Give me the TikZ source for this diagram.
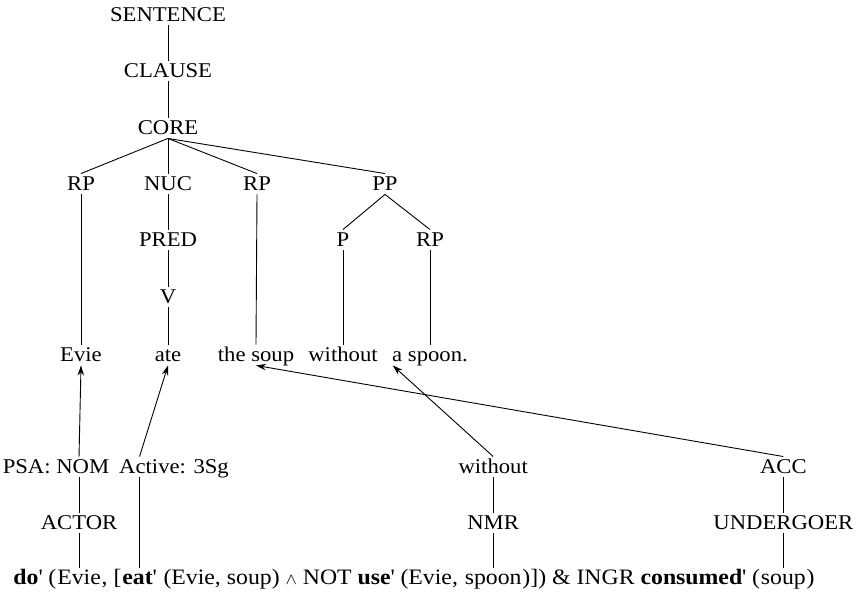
\documentclass[tikz,border=0pt]{standalone}
\usepackage{fontspec}
\setmainfont{Liberation Serif}[FakeStretch=1.08]
\usetikzlibrary{arrows.meta}
\newcommand\prm{\textquotesingle}
\newcommand\fgap{\kern\fontdimen2\font}
\begin{document}
\begin{tikzpicture}[x=0.5pt,y=-0.5pt,>={Stealth[length=5pt,width=3.2pt]},
  font=\fontsize{10.5}{12}\selectfont,line width=0.45pt,
  lab/.style={inner sep=1.5pt,text height=7pt,text depth=0pt,anchor=base},
  fpart/.style={font=\fontsize{11}{13}\selectfont,inner xsep=0pt,inner ysep=1.5pt,text height=7pt,text depth=0pt,anchor=base west}]
\useasboundingbox (0,0) rectangle (858,597);
% tree
\node[lab](sentence) at (168,22){SENTENCE};
\node[lab](clause) at (168,78){CLAUSE};
\node[lab](core) at (168,135){CORE};
\node[lab](rpa) at (81,191){RP};
\node[lab](nuc) at (168,191){NUC};
\node[lab](rpb) at (257,191){RP};
\node[lab](pp) at (385,191){PP};
\node[lab](pred) at (168,247){PRED};
\node[lab](p) at (343,247){P};
\node[lab](rpc) at (430,247){RP};
\node[lab](v) at (168,304){V};
\node[lab](evie) at (81,362){Evie};
\node[lab](ate) at (168,362){ate};
\node[lab](thesoup) at (256,362){the soup};
\node[lab](without) at (343,362){without};
\node[lab](aspoon) at (430,362){a spoon.};
\foreach \a/\b in {sentence/clause,clause/core,core/rpa,core/nuc,core/rpb,core/pp,pp/p,pp/rpc,
  nuc/pred,pred/v,rpa/evie,v/ate,rpb/thesoup,p/without,rpc/aspoon}
  \draw(\a.south)--(\b.north);
% logical structure
\node[fpart](fdo) at (13,585){\textbf{do}\prm{} (};
\node[fpart](fevie) at (fdo.base east){Evie};
\node[fpart](fa) at (fevie.base east){, [};
\node[fpart](feat) at (fa.base east){\textbf{eat}\prm};
\node[fpart](fb) at (feat.base east){\fgap(Evie, soup) $\scriptstyle\wedge$ NOT \textbf{use}\prm{} (Evie,\fgap};
\node[fpart](fspoon) at (fb.base east){spoon};
\node[fpart](fc) at (fspoon.base east){)]) \& INGR \textbf{consumed}\prm{} (};
\node[fpart](fsoup) at (fc.base east){soup};
\node[fpart](fd) at (fsoup.base east){)};
\coordinate(rowa) at (0,474);
\coordinate(rowb) at (0,530);
\node[lab](psa) at (56,474){PSA: NOM};
\node[lab](active) at (174,474){Active: 3Sg};
\node[lab](withoutb) at (fspoon.base |- rowa){without};
\node[lab](acc) at (fsoup.base |- rowa){ACC};
\node[lab](actor) at (fevie.base |- rowb){ACTOR};
\node[lab](nmr) at (fspoon.base |- rowb){NMR};
\node[lab](undergoer) at (fsoup.base |- rowb){UNDERGOER};
\draw(fevie.north)--(actor.south);
\draw(actor.north)--(actor.north |- psa.south);
\draw(feat.north)--(feat.north |- active.south);
\draw(fspoon.north)--(nmr.south);
\draw(nmr.north)--(withoutb.south);
\draw(fsoup.north)--(undergoer.south);
\draw(undergoer.north)--(acc.south);
\draw[->](actor.north |- psa.north)--(evie.south);
\draw[->](feat.north |- active.north)--(ate.south);
\draw[->](withoutb.north)--([xshift=2pt]aspoon.south west);
\draw[->](acc.north)--(thesoup.south);
\end{tikzpicture}
\end{document}
